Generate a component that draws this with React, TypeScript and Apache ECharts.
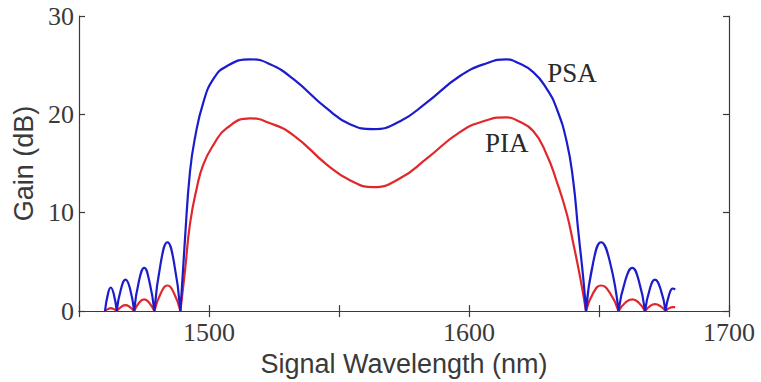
import React, { useEffect, useRef } from "react";
import * as echarts from "echarts";

// x: signal wavelength (nm), y: gain (dB)
const xTicks = [1450, 1500, 1550, 1600, 1650, 1700];
const yTicks = [0, 10, 20, 30];

// PSA (blue) — side lobes and main band
const psaLeftLobes: number[][][] = [
  [[1460, 0], [1461.1, 1.7], [1462.2, 2.4], [1463.4, 1.7], [1464.5, 0]],
  [[1464.5, 0], [1466.1, 2.2], [1467.9, 3.2], [1469.6, 2.3], [1471.2, 0]],
  [[1471.2, 0], [1473.1, 3.1], [1475.1, 4.4], [1477.0, 3.1], [1479, 0]],
  [[1479, 0], [1481.5, 5.0], [1484, 7.0], [1486.5, 5.0], [1489, 0]],
];
const psaMain: number[][] = [
  [1489, 0], [1490.8, 7.5], [1492.7, 14.2], [1494.6, 17.6], [1497.8, 21.2],
  [1501.7, 23.6], [1506.8, 24.9], [1515.8, 25.6], [1523.5, 25.1], [1532.4, 23.6],
  [1545.3, 20.6], [1554.2, 19.0], [1563.2, 18.5], [1573.5, 19.3], [1583.7, 21.2],
  [1596.5, 23.9], [1606.8, 25.2], [1614.5, 25.6], [1618.3, 25.3], [1624.7, 24.3],
  [1629.9, 22.6], [1633.7, 20.6], [1637.6, 17.2], [1640.1, 13.2], [1642, 8.2],
  [1644, 3.2], [1645, 0],
];
const psaRightLobes: number[][][] = [
  [[1645, 0], [1647.8, 5.0], [1650.8, 7.0], [1654.2, 5.0], [1657.5, 0]],
  [[1657.5, 0], [1660.1, 3.1], [1662.8, 4.4], [1665.3, 3.1], [1667.7, 0]],
  [[1667.7, 0], [1669.6, 2.3], [1671.5, 3.2], [1673.6, 2.3], [1675.6, 0]],
  [[1675.6, 0], [1677, 1.7], [1678.4, 2.3], [1679.3, 2.2]],
];

// PIA (red)
const piaLeftLobes: number[][][] = [
  [[1460, 0], [1461.1, 0.2], [1462.2, 0.3], [1463.4, 0.2], [1464.5, 0]],
  [[1464.5, 0], [1466.1, 0.4], [1467.9, 0.6], [1469.6, 0.4], [1471.2, 0]],
  [[1471.2, 0], [1473.1, 0.85], [1475.1, 1.2], [1477.0, 0.85], [1479, 0]],
  [[1479, 0], [1481.5, 1.85], [1484, 2.6], [1486.5, 1.85], [1489, 0]],
];
const piaMain: number[][] = [
  [1489, 0], [1490.8, 4.2], [1492.7, 8.9], [1495.3, 12.5], [1497.8, 14.9],
  [1501.7, 16.9], [1506.8, 18.6], [1515.8, 19.6], [1523.5, 19.1], [1532.4, 17.9],
  [1545.3, 14.9], [1554.2, 13.3], [1563.2, 12.6], [1573.5, 13.5], [1583.7, 15.5],
  [1596.5, 18.2], [1606.8, 19.4], [1614.5, 19.7], [1618.3, 19.4], [1624.7, 18.3],
  [1629.9, 15.9], [1633.7, 13.2], [1637.6, 9.9], [1640.1, 6.9], [1642.7, 3.5],
  [1645, 0],
];
const piaRightLobes: number[][][] = [
  [[1645, 0], [1647.8, 1.85], [1650.8, 2.6], [1654.2, 1.85], [1657.5, 0]],
  [[1657.5, 0], [1660.1, 0.85], [1662.8, 1.2], [1665.3, 0.85], [1667.7, 0]],
  [[1667.7, 0], [1669.6, 0.5], [1671.5, 0.7], [1673.6, 0.5], [1675.6, 0]],
  [[1675.6, 0], [1677, 0.3], [1678.4, 0.4], [1679.3, 0.4]],
];

const labelPSA = { text: "PSA", coord: [1639.6, 24.2] };
const labelPIA = { text: "PIA", coord: [1614.5, 17.1] };

function joinSegments(segs: number[][][]): (number | string)[][] {
  const out: (number | string)[][] = [];
  segs.forEach((s, i) => {
    if (i > 0) out.push([s[0][0], "-"]);
    s.forEach((p) => out.push(p));
  });
  return out;
}

const AXIS_COLOR = "#3a3a3a";
const SERIF = "'Liberation Serif', 'DejaVu Serif', serif";
const SANS = "'Liberation Sans', Arial, sans-serif";

export default function App() {
  const ref = useRef<HTMLDivElement>(null);
  useEffect(() => {
    if (!ref.current) return;
    const chart = echarts.init(ref.current, null, { renderer: "svg" });
    const psaData = joinSegments([...psaLeftLobes, psaMain, ...psaRightLobes]);
    const piaData = joinSegments([...piaLeftLobes, piaMain, ...piaRightLobes]);
    const xMin = xTicks[0];
    const xMax = xTicks[xTicks.length - 1];
    const yMin = yTicks[0];
    const yMax = yTicks[yTicks.length - 1];
    const common = {
      axisLine: { show: true, lineStyle: { color: AXIS_COLOR, width: 1.2 } },
      axisTick: { show: true, inside: true, length: 6, lineStyle: { color: AXIS_COLOR, width: 1.2 } },
      splitLine: { show: false },
    };
    const mk = (l: { text: string; coord: number[] }) => ({
      coord: l.coord,
      value: l.text,
      symbol: "rect",
      symbolSize: 1,
      itemStyle: { color: "rgba(0,0,0,0)" },
      label: {
        show: true,
        position: "inside",
        formatter: l.text,
        fontFamily: SERIF,
        fontSize: 27,
        color: "#2a2a2a",
      },
    });
    chart.setOption({
      animation: false,
      backgroundColor: "#ffffff",
      grid: { left: 79, right: 32, top: 16, bottom: 67, containLabel: false },
      xAxis: [
        {
          type: "value",
          min: xMin,
          max: xMax,
          interval: 50,
          position: "bottom",
          ...common,
          axisLabel: {
            margin: 8,
            fontFamily: SERIF,
            fontSize: 26,
            color: "#3a3a3a",
            formatter: (v: number) => (v % 100 === 0 && v !== xMin ? String(v) : ""),
          },
          name: "Signal Wavelength (nm)",
          nameLocation: "middle",
          nameGap: 35,
          nameTextStyle: { fontFamily: SANS, fontSize: 27, color: "#3a3a3a" },
        },
        {
          type: "value",
          min: xMin,
          max: xMax,
          interval: 50,
          position: "top",
          ...common,
          axisLabel: { show: false },
        },
      ],
      yAxis: [
        {
          type: "value",
          min: yMin,
          max: yMax,
          interval: 10,
          position: "left",
          ...common,
          axisLabel: { margin: 5, fontFamily: SERIF, fontSize: 26, color: "#3a3a3a" },
          name: "Gain (dB)",
          nameLocation: "middle",
          nameGap: 33,
          nameTextStyle: { fontFamily: SANS, fontSize: 27, color: "#3a3a3a" },
        },
        {
          type: "value",
          min: yMin,
          max: yMax,
          interval: 10,
          position: "right",
          ...common,
          axisLabel: { show: false },
        },
      ],
      series: [
        {
          type: "line",
          name: "PIA",
          data: piaData,
          smooth: 0.5,
          showSymbol: false,
          connectNulls: false,
          lineStyle: { color: "#e0282c", width: 2.2 },
          itemStyle: { color: "#e0282c" },
          markPoint: { silent: true, data: [mk(labelPIA)] },
          z: 2,
        },
        {
          type: "line",
          name: "PSA",
          data: psaData,
          smooth: 0.5,
          showSymbol: false,
          connectNulls: false,
          lineStyle: { color: "#1c1ccc", width: 2.2 },
          itemStyle: { color: "#1c1ccc" },
          markPoint: { silent: true, data: [mk(labelPSA)] },
          z: 3,
        },
      ],
    });
    return () => chart.dispose();
  }, []);
  return <div ref={ref} style={{ width: 761, height: 382, position: "absolute", left: 0, top: 0 }} />;
}
